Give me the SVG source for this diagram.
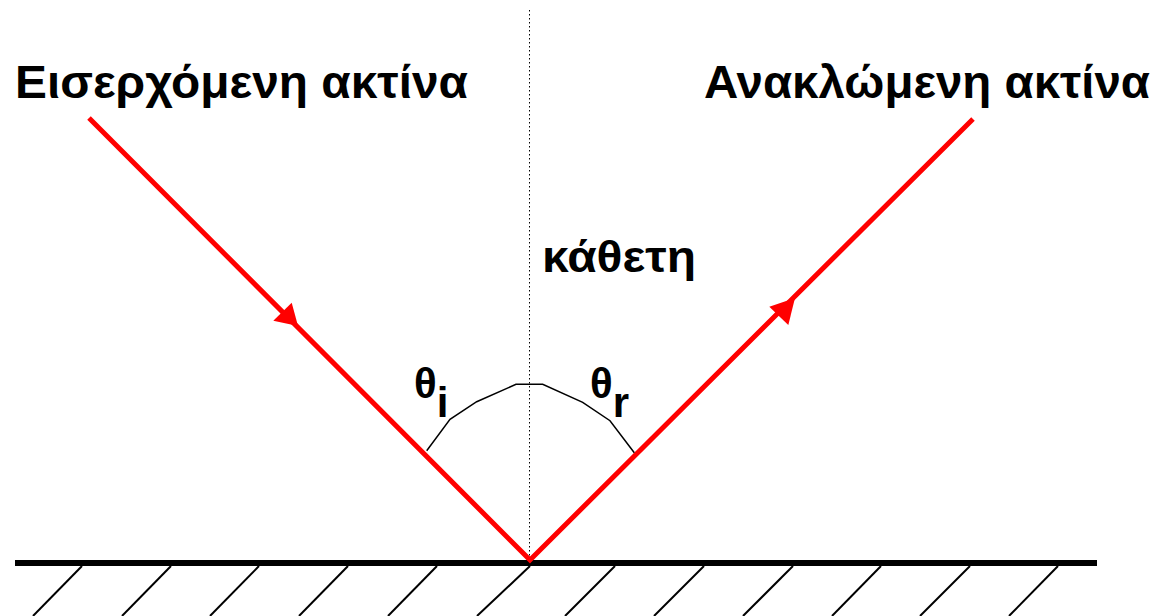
<svg xmlns="http://www.w3.org/2000/svg" width="1162" height="616" viewBox="0 0 1162 616">
<style>
.lbl{font-family:"Liberation Sans",Arial,sans-serif;font-weight:bold;fill:#000}
.ray{stroke:#ff0000;stroke-width:5;fill:none}
.hatch{stroke:#000;stroke-width:2}
</style>
<rect width="1162" height="616" fill="#fff"/>
<g id="surface">
<line x1="15" y1="563" x2="1097" y2="563" stroke="#000" stroke-width="6"/>
<g class="hatch">
<line x1="82" y1="566" x2="33" y2="616"/>
<line x1="171" y1="566" x2="122" y2="616"/>
<line x1="259" y1="566" x2="210" y2="616"/>
<line x1="348" y1="566" x2="299" y2="616"/>
<line x1="437" y1="566" x2="388" y2="616"/>
<line x1="530" y1="566" x2="477" y2="616"/>
<line x1="615" y1="566" x2="565" y2="616"/>
<line x1="704" y1="566" x2="654" y2="616"/>
<line x1="793" y1="566" x2="743" y2="616"/>
<line x1="881" y1="566" x2="832" y2="616"/>
<line x1="970" y1="566" x2="920" y2="616"/>
<line x1="1058" y1="566" x2="1009" y2="616"/>
</g>
</g>
<g id="normal">
<line x1="529.5" y1="10" x2="529.5" y2="563" stroke="#000" stroke-width="1" stroke-dasharray="1.5 2.5"/>
<text class="lbl" x="542" y="272" font-size="44" textLength="154" lengthAdjust="spacingAndGlyphs">κάθετη</text>
</g>
<g id="connectors">
<polyline class="ray" points="89,118 530,560 973,119"/>
<polygon points="298,326 291.7,302.7 273.3,320.7" fill="#ff0000"/>
<polygon points="795,298 769.3,306.7 788.3,325" fill="#ff0000"/>
<polyline points="426.7,450.7 450,419.3 476.7,401.7 516,384.3 542.7,384.3 582.7,402.3 610,420.7 634.3,452.7" fill="none" stroke="#000" stroke-width="1.5"/>
</g>
<g id="incident">
<text class="lbl" x="15" y="98" font-size="46" textLength="453" lengthAdjust="spacingAndGlyphs">Εισερχόμενη ακτίνα</text>
</g>
<g id="reflected">
<text class="lbl" x="704" y="98" font-size="46" textLength="446" lengthAdjust="spacingAndGlyphs">Ανακλώμενη ακτίνα</text>
</g>
<g id="theta-i">
<text class="lbl" x="414" y="398" font-size="42">θ<tspan dy="19">i</tspan></text>
</g>
<g id="theta-r">
<text class="lbl" x="590" y="398" font-size="42">θ<tspan dy="19">r</tspan></text>
</g>
</svg>
